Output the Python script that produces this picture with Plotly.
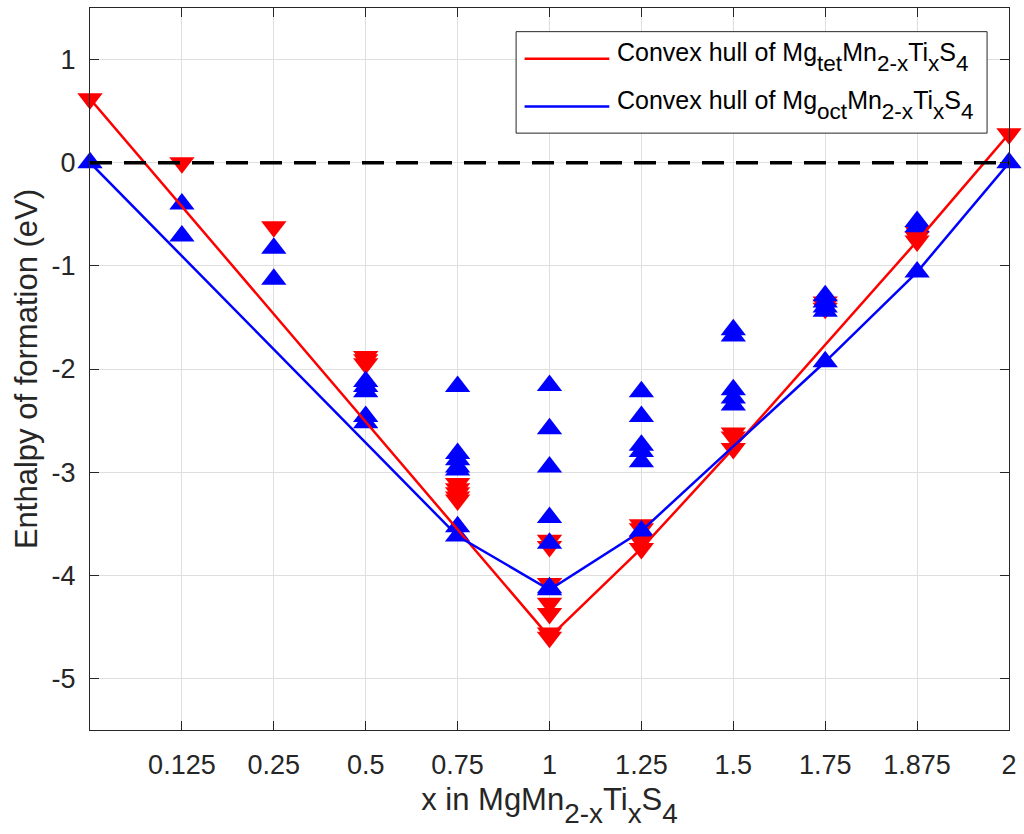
import plotly.graph_objects as go

# Compositions x, plotted at evenly spaced positions along the axis
x_values = [0, 0.125, 0.25, 0.5, 0.75, 1, 1.25, 1.5, 1.75, 1.875, 2]
x_tick_labels = ["0.125", "0.25", "0.5", "0.75", "1", "1.25", "1.5", "1.75", "1.875", "2"]
y_tick_values = [-5, -4, -3, -2, -1, 0, 1]
y_tick_labels = ["-5", "-4", "-3", "-2", "-1", "0", "1"]

# Formation enthalpies (eV) with Mg on tetrahedral sites
tet_x = [0,
         0.125,
         0.25,
         0.5, 0.5, 0.5,
         0.75, 0.75, 0.75, 0.75, 0.75,
         1, 1, 1, 1, 1, 1, 1,
         1.25, 1.25, 1.25, 1.25,
         1.5, 1.5, 1.5,
         1.75, 1.75, 1.75,
         1.875, 1.875, 1.875,
         2]
tet_h = [0.62,
         0.0,
         -0.62,
         -1.88, -1.91, -1.95,
         -3.11, -3.16, -3.20, -3.24, -3.27,
         -3.66, -3.72, -4.08, -4.27, -4.37, -4.56, -4.60,
         -3.51, -3.55, -3.67, -3.74,
         -2.62, -2.66, -2.77,
         -1.35, -1.38, -1.41,
         -0.67, -0.72, -0.76,
         0.28]

# Formation enthalpies (eV) with Mg on octahedral sites
oct_x = [0,
         0.125, 0.125,
         0.25, 0.25,
         0.5, 0.5, 0.5, 0.5, 0.5,
         0.75, 0.75, 0.75, 0.75, 0.75, 0.75, 0.75,
         1, 1, 1, 1, 1, 1, 1,
         1.25, 1.25, 1.25, 1.25, 1.25, 1.25,
         1.5, 1.5, 1.5, 1.5, 1.5,
         1.75, 1.75, 1.75, 1.75, 1.75,
         1.875, 1.875, 1.875,
         2]
oct_h = [0.0,
         -0.40, -0.71,
         -0.83, -1.13,
         -2.12, -2.17, -2.22, -2.46, -2.52,
         -2.17, -2.82, -2.88, -2.95, -2.98, -3.53, -3.62,
         -2.16, -2.58, -2.95, -3.44, -3.69, -4.12, -4.14,
         -2.22, -2.46, -2.74, -2.80, -2.90, -3.57,
         -1.62, -1.68, -2.20, -2.28, -2.35,
         -1.29, -1.35, -1.40, -1.44, -1.93,
         -0.57, -0.62, -1.06,
         0.0]

RED = "#ff0000"
BLUE = "#0000ff"
INK = "#262626"
GRID = "#dfdfdf"
FONT = "Liberation Sans, Arial, Helvetica, sans-serif"

W, H = 1024, 834
M = dict(l=90, r=12, t=7, b=104)
PW = W - M["l"] - M["r"]
PH = H - M["t"] - M["b"]


def px(x):
    return (x - M["l"]) / PW


def py(y):
    return (H - M["b"] - y) / PH


def pos(xs):
    return [x_values.index(x) for x in xs]


def lower_hull(xs, hs):
    """Lower convex hull through the lowest enthalpy at each composition."""
    best = {}
    for p, h in zip(pos(xs), hs):
        best[p] = min(h, best.get(p, h))
    pts = sorted(best.items())
    hull = []
    for p in pts:
        while len(hull) >= 2:
            (ox, oy), (ax, ay) = hull[-2], hull[-1]
            if (ax - ox) * (p[1] - oy) - (ay - oy) * (p[0] - ox) <= 0:
                hull.pop()
            else:
                break
        hull.append(p)
    return [q[0] for q in hull], [q[1] for q in hull]


def sub(t):
    return f'<span style="font-size:90%;baseline-shift:-0.45em">{t}</span>'


tet_hx, tet_hy = lower_hull(tet_x, tet_h)
oct_hx, oct_hy = lower_hull(oct_x, oct_h)

fig = go.Figure()
fig.add_trace(go.Scatter(x=pos(tet_x), y=tet_h, mode="markers", cliponaxis=False,
                         marker=dict(symbol="triangle-down", size=22, color=RED),
                         showlegend=False))
fig.add_trace(go.Scatter(x=pos(oct_x), y=oct_h, mode="markers", cliponaxis=False,
                         marker=dict(symbol="triangle-up", size=22, color=BLUE),
                         showlegend=False))
fig.add_trace(go.Scatter(x=tet_hx, y=tet_hy, mode="lines", cliponaxis=False,
                         line=dict(color=RED, width=2.5), showlegend=False))
fig.add_trace(go.Scatter(x=oct_hx, y=oct_hy, mode="lines", cliponaxis=False,
                         line=dict(color=BLUE, width=2.5), showlegend=False))

# zero-enthalpy reference
fig.add_shape(type="line", xref="paper", x0=0, x1=1, yref="y", y0=0, y1=0,
              line=dict(color="black", width=3.5, dash="22px,12px"), layer="above")

# legend box
fig.add_shape(type="rect", xref="paper", yref="paper",
              x0=px(517.5), x1=px(990), y0=py(132.3), y1=py(30.7),
              fillcolor="white", line=dict(color=INK, width=1), layer="above")
legend_rows = [
    (57.7, RED, "Convex hull of Mg" + sub("tet") + "Mn" + sub("2-x") + "Ti" + sub("x") + "S" + sub("4")),
    (105.7, BLUE, "Convex hull of Mg" + sub("oct") + "Mn" + sub("2-x") + "Ti" + sub("x") + "S" + sub("4")),
]
for ypix, col, label in legend_rows:
    fig.add_shape(type="line", xref="paper", yref="paper",
                  x0=px(526), x1=px(611), y0=py(ypix), y1=py(ypix),
                  line=dict(color=col, width=2.5), layer="above")
    fig.add_annotation(xref="paper", yref="paper", x=px(617), y=py(ypix - 2),
                       xanchor="left", yanchor="middle", showarrow=False,
                       text=label, font=dict(family=FONT, size=25, color="black"))

fig.update_layout(
    width=W, height=H,
    margin=M,
    paper_bgcolor="white", plot_bgcolor="white",
    font=dict(family=FONT, color=INK),
    showlegend=False,
    xaxis=dict(range=[0, 10], tickvals=list(range(1, 11)), ticktext=x_tick_labels,
               showgrid=True, gridcolor=GRID, gridwidth=1, zeroline=False,
               showline=True, linecolor=INK, linewidth=1, mirror="ticks",
               ticks="inside", ticklen=9, tickcolor=INK, tickwidth=1,
               tickfont=dict(size=27, color=INK), ticklabelstandoff=11,
               title=dict(text="x in MgMn" + sub("2-x") + "Ti" + sub("x") + "S" + sub("4"),
                          font=dict(size=31, color=INK), standoff=8)),
    yaxis=dict(range=[-5.5, 1.5], tickvals=y_tick_values, ticktext=y_tick_labels,
               showgrid=True, gridcolor=GRID, gridwidth=1, zeroline=False,
               showline=True, linecolor=INK, linewidth=1, mirror="ticks",
               ticks="inside", ticklen=9, tickcolor=INK, tickwidth=1,
               tickfont=dict(size=27, color=INK), ticklabelstandoff=8,
               title=dict(text="Enthalpy of formation (eV)",
                          font=dict(size=31, color=INK), standoff=4)),
)

fig.write_html("out.html")
